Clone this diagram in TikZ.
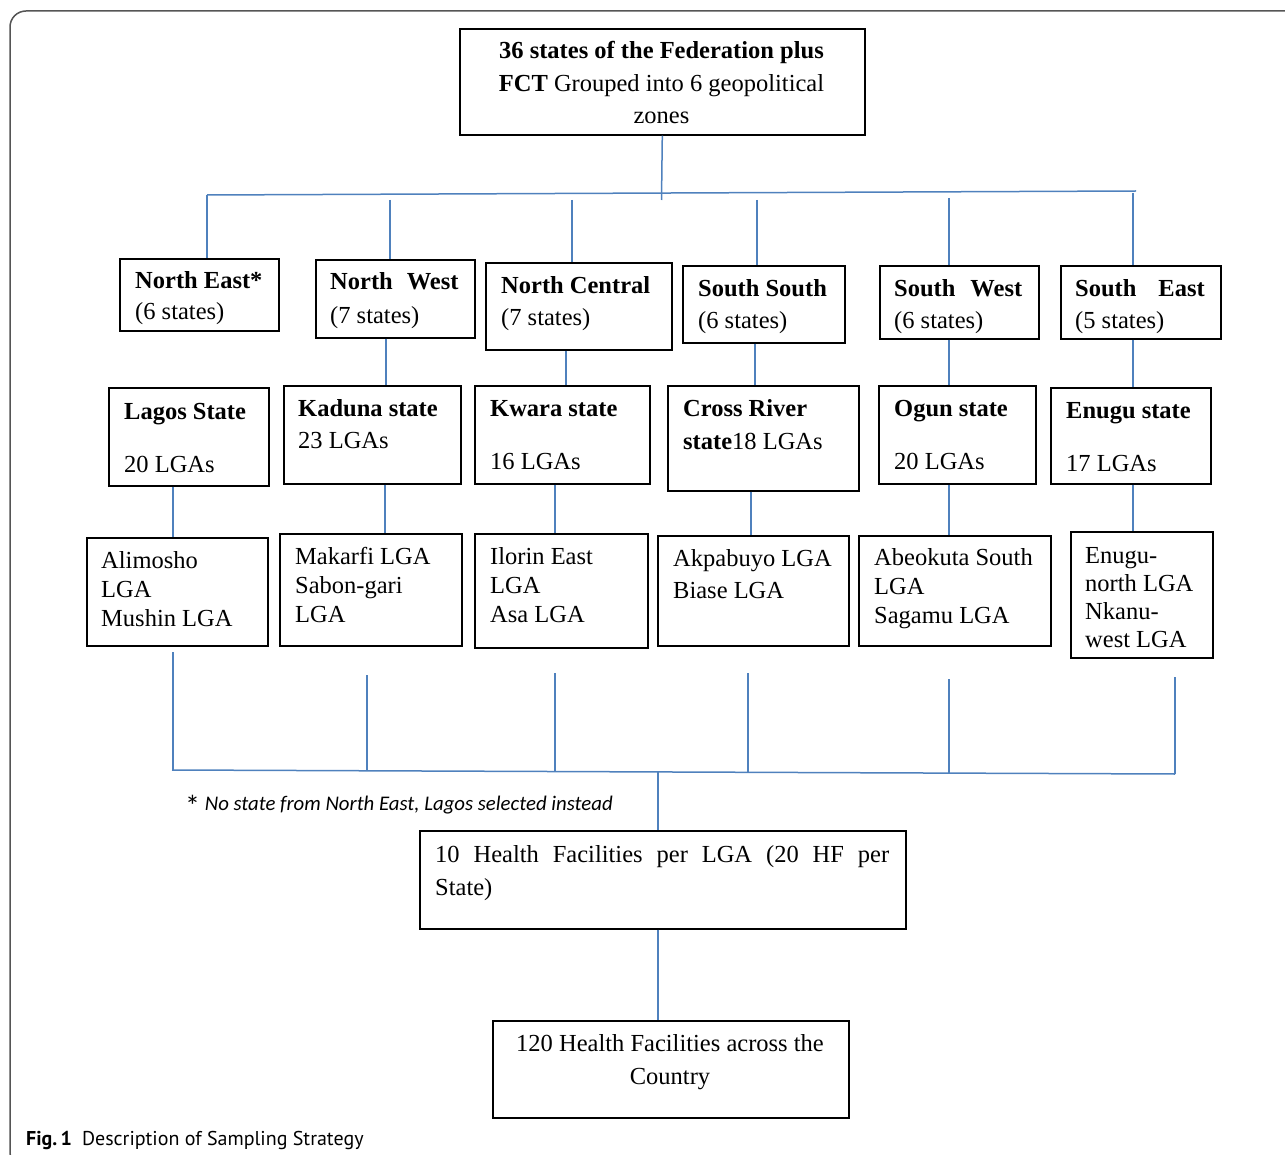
\documentclass[tikz,border=0pt]{standalone}
\usepackage{fontspec}
\setmainfont{Liberation Serif}
\newfontfamily\notefont{Carlito}
\newfontfamily\capfont{PT Sans}

\definecolor{linkblue}{RGB}{79,129,189}
\definecolor{framegray}{RGB}{85,85,85}

% text of a box, first line on the node's baseline
\newcommand{\lines}[2]{{\fontsize{24.5}{#1}\selectfont
  \begin{tabular}[t]{@{}l@{}}#2\end{tabular}}}
\newcommand{\clines}[2]{{\fontsize{24.5}{#1}\selectfont
  \begin{tabular}[t]{@{}c@{}}#2\end{tabular}}}

\tikzset{
  box/.style={draw, line width=1.6pt, anchor=north west, inner sep=0pt},
  txt/.style={anchor=base west, inner sep=0pt},
  link/.style={draw=linkblue, line width=1.5pt},
}

\begin{document}
\begin{tikzpicture}[x=1pt,y=-1pt]
  \useasboundingbox (0,0) rectangle (1285,1155);
  \clip (0,0) rectangle (1285,1155);

  \draw[framegray, line width=1.5pt, rounded corners=16pt]
  (1300,1168) -- (10,1168) -- (10,11) -- (1300,11);

  % top box
  \node[box, minimum width=405pt, minimum height=106pt] (top) at (459,28) {};
  \node[txt, anchor=base] (top-t) at (661.5,59)
  {\clines{32.5}{\textbf{36 states of the Federation plus}\\
      \textbf{FCT} Grouped into 6 geopolitical\\ zones}};

  % zones
  \node[box, minimum width=159pt, minimum height=72pt] (ne) at (119,258) {};
  \node[box, minimum width=159pt, minimum height=78pt] (nw) at (315,259) {};
  \node[box, minimum width=186pt, minimum height=87pt] (nc) at (485,262) {};
  \node[box, minimum width=162pt, minimum height=77pt] (ss) at (682,265) {};
  \node[box, minimum width=159pt, minimum height=73pt] (sw) at (879,265) {};
  \node[box, minimum width=160pt, minimum height=73pt] (se) at (1060,265) {};

  \node[txt] (ne-t) at (135,289)
  {\lines{31}{\textbf{North East*}\\(6 states)}};
  \node[txt] (nw-t) at (330,290)
  {\lines{34}{\textbf{North\hspace{14pt}West}\\(7 states)}};
  \node[txt] (nc-t) at (501,294)
  {\lines{32}{\textbf{North Central}\\(7 states)}};
  \node[txt] (ss-t) at (698,297)
  {\lines{32}{\textbf{South South}\\(6 states)}};
  \node[txt] (sw-t) at (894,297)
  {\lines{32}{\textbf{South\hspace{15pt}West}\\(6 states)}};
  \node[txt] (se-t) at (1075,297)
  {\lines{32}{\textbf{South\hspace{22pt}East}\\(5 states)}};

  % states
  \node[box, minimum width=160pt, minimum height=98pt] (lag) at (108,387) {};
  \node[box, minimum width=177pt, minimum height=98pt] (kad) at (283,385) {};
  \node[box, minimum width=175pt, minimum height=98pt] (kwa) at (474,385) {};
  \node[box, minimum width=191pt, minimum height=105pt] (crs) at (667,385) {};
  \node[box, minimum width=157pt, minimum height=98pt] (ogu) at (878,385) {};
  \node[box, minimum width=160pt, minimum height=96pt] (enu) at (1050,387) {};

  \node[txt] (lag-t) at (124,419)
  {\lines{31}{\textbf{Lagos State}\\[22pt]20 LGAs}};
  \node[txt] (kad-t) at (298,417)
  {\lines{32}{\textbf{Kaduna state}\\23 LGAs}};
  \node[txt] (kwa-t) at (490,417)
  {\lines{31}{\textbf{Kwara state}\\[22pt]16 LGAs}};
  \node[txt] (crs-t) at (683,417)
  {\lines{33}{\textbf{Cross River}\\\textbf{state}18 LGAs}};
  \node[txt] (ogu-t) at (894,417)
  {\lines{31}{\textbf{Ogun state}\\[22pt]20 LGAs}};
  \node[txt] (enu-t) at (1066,418)
  {\lines{31}{\textbf{Enugu state}\\[22pt]17 LGAs}};

  % LGAs
  \node[box, minimum width=181pt, minimum height=108pt] (lg1) at (86,537) {};
  \node[box, minimum width=182pt, minimum height=112pt] (lg2) at (279,533) {};
  \node[box, minimum width=173pt, minimum height=114pt] (lg3) at (474,533) {};
  \node[box, minimum width=191pt, minimum height=110pt] (lg4) at (657,535) {};
  \node[box, minimum width=192pt, minimum height=110pt] (lg5) at (858,535) {};
  \node[box, minimum width=142pt, minimum height=126pt] (lg6) at (1070,531) {};

  \node[txt] (lg1-t) at (101,568)
  {\lines{29}{Alimosho\\LGA\\Mushin LGA}};
  \node[txt] (lg2-t) at (295,564)
  {\lines{29}{Makarfi LGA\\Sabon-gari\\LGA}};
  \node[txt] (lg3-t) at (490,564)
  {\lines{29}{Ilorin East\\LGA\\Asa LGA}};
  \node[txt] (lg4-t) at (673,566)
  {\lines{32}{Akpabuyo LGA\\Biase LGA}};
  \node[txt] (lg5-t) at (874,565)
  {\lines{29}{Abeokuta South\\LGA\\Sagamu LGA}};
  \node[txt] (lg6-t) at (1085,563)
  {\lines{28}{Enugu-\\north LGA\\Nkanu-\\west LGA}};

  % health facilities
  \node[box, minimum width=486pt, minimum height=98pt] (hf) at (419,830) {};
  \node[txt] (hf-t) at (435,862)
  {\lines{33}{\makebox[454pt][s]{10 Health Facilities per LGA (20 HF per}\\
      State)}};
  \node[box, minimum width=356pt, minimum height=97pt] (fin) at (492,1020) {};
  \node[txt, anchor=base] (fin-t) at (670,1051)
  {\clines{33}{120 Health Facilities across the\\Country}};

  % upper connectors
  \coordinate (hub) at (661.5,200);
  \coordinate (busW) at (207,195);
  \coordinate (busE) at (1136,191);
  \draw[link] (top.south) -- (hub);
  \draw[link] (busW) -- (busE);
  \foreach \n/\x/\y in {ne/207/195, nw/390/200, nc/572/200,
    ss/757/200, sw/949/198, se/1133/193}
    \draw[link] (\x,\y) -- (\x,0 |- \n.north);

  \foreach \a/\b/\x in {nw/kad/386, nc/kwa/566, ss/crs/755,
    sw/ogu/949, se/enu/1133}
    \draw[link] (\x,0 |- \a.south) -- (\x,0 |- \b.north);

  \foreach \a/\b/\x in {lag/lg1/173, kad/lg2/385, kwa/lg3/555,
    crs/lg4/751, ogu/lg5/949, enu/lg6/1133}
    \draw[link] (\x,0 |- \a.south) -- (\x,0 |- \b.north);

  % lower connectors
  \coordinate (lbusW) at (172,770);
  \coordinate (lbusE) at (1175,774);
  \draw[link] (lbusW) -- (lbusE);
  \foreach \x/\ya/\yb in {173/652/770, 367/675/770.8, 555/673/771.5,
    748/673/772.3, 949/679/773.1, 1175/677/774}
    \draw[link] (\x,\ya) -- (\x,\yb);
  \draw[link] (658,772) -- (658,0 |- hf.north);
  \draw[link] (658,0 |- hf.south) -- (658,0 |- fin.north);

  % note and caption
  \node[txt, font=\notefont\itshape\fontsize{20.8}{25}\selectfont] (note)
  at (185,810) {\raisebox{-6pt}{\fontsize{30}{30}\selectfont\upshape *}
    No state from North East, Lagos selected instead};
  \node[txt, font=\capfont\fontsize{20}{24}\selectfont] (cap)
  at (26,1145) {\textbf{Fig.\,1}\hspace{10pt}Description of Sampling Strategy};

\end{tikzpicture}
\end{document}
